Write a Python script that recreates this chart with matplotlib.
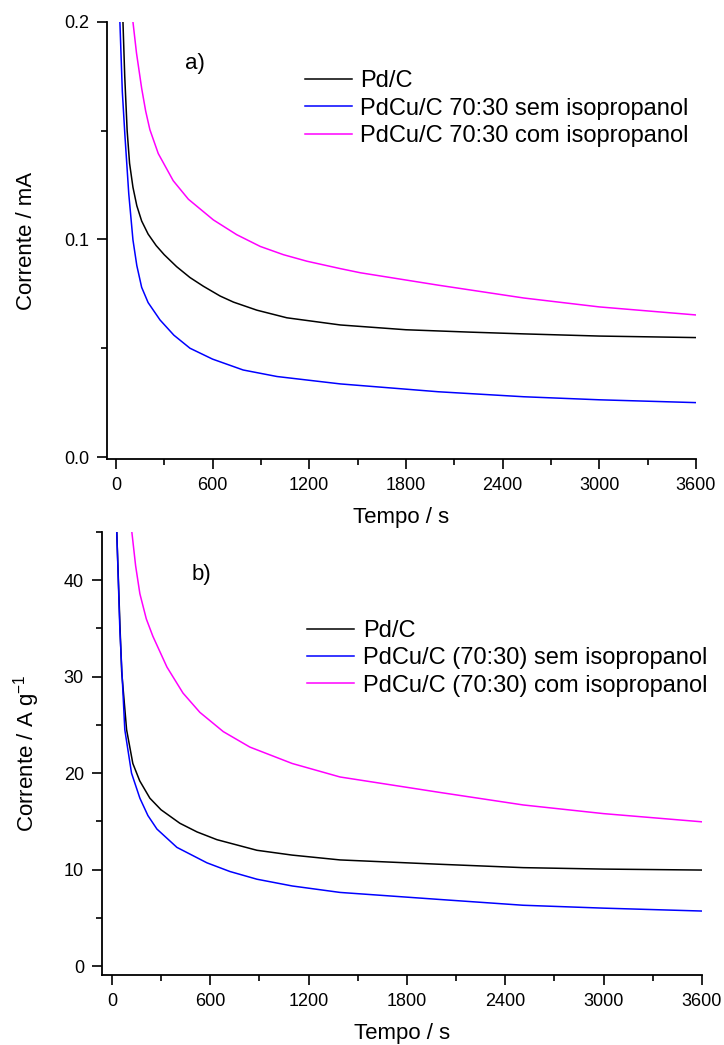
import numpy as np
import matplotlib
matplotlib.use("Agg")
import matplotlib.pyplot as plt
from matplotlib.ticker import MultipleLocator, FormatStrFormatter

plt.rcParams['font.family'] = ['Liberation Sans', 'DejaVu Sans']
plt.rcParams['mathtext.default'] = 'regular'

# a) corrente (mA) vs tempo (s)
t_pd_a = [30, 44, 55, 70, 85, 106, 130, 160, 200, 250, 300, 377, 460, 543, 647, 730,
          875, 1061, 1393, 1800, 2200, 2531, 3000, 3600]
i_pd_a = [0.26, 0.200, 0.175, 0.150, 0.135, 0.124, 0.1155, 0.1085, 0.1025, 0.0972, 0.0930,
          0.0875, 0.0825, 0.0785, 0.0740, 0.0712, 0.0675, 0.0640, 0.0607, 0.0585, 0.0574,
          0.0566, 0.0556, 0.0549]
t_sem_a = [15, 25, 40, 56, 80, 106, 130, 160, 200, 274, 360, 460, 600, 790, 1000, 1393,
           2000, 2531, 3000, 3600]
i_sem_a = [0.28, 0.200, 0.168, 0.148, 0.121, 0.0998, 0.088, 0.078, 0.071, 0.063, 0.056,
           0.050, 0.045, 0.040, 0.037, 0.0336, 0.0300, 0.0277, 0.0263, 0.0250]
t_com_a = [80, 106, 128, 160, 185, 211, 263, 356, 450, 605, 750, 896, 1040, 1186, 1393,
           1517, 2000, 2531, 3000, 3600]
i_com_a = [0.25, 0.200, 0.1857, 0.1695, 0.159, 0.1505, 0.1395, 0.127, 0.1185, 0.109,
           0.1022, 0.0968, 0.0930, 0.0900, 0.0866, 0.0847, 0.0790, 0.0731, 0.0690, 0.0653]

# b) corrente (A/g) vs tempo (s)
t_pd_b = [20, 30, 49, 60, 90, 128, 170, 232, 300, 415, 520, 641, 885, 1100, 1392, 2000,
          2509, 3000, 3600]
i_pd_b = [55, 45, 35.5, 30.5, 24.5, 21.0, 19.2, 17.4, 16.2, 14.8, 13.9, 13.1, 12.0, 11.5,
          11.0, 10.55, 10.2, 10.05, 9.95]
t_sem_b = [20, 30, 49, 79, 120, 171, 220, 275, 397, 580, 720, 885, 1100, 1392, 2000, 2509,
           3000, 3600]
i_sem_b = [55, 45, 34.8, 24.5, 20.0, 17.4, 15.6, 14.2, 12.3, 10.7, 9.8, 9.0, 8.3, 7.63,
           6.9, 6.3, 6.0, 5.7]
t_com_b = [100, 122, 145, 171, 210, 250, 336, 434, 537, 680, 842, 1100, 1392, 2000, 2509,
           3000, 3600]
i_com_b = [52, 45, 41.5, 38.6, 36.0, 34.2, 31.0, 28.3, 26.3, 24.3, 22.7, 21.0, 19.6, 18.0,
           16.7, 15.8, 14.95]

labels_a = ["Pd/C", "PdCu/C 70:30 sem isopropanol", "PdCu/C 70:30 com isopropanol"]
labels_b = ["Pd/C", "PdCu/C (70:30) sem isopropanol", "PdCu/C (70:30) com isopropanol"]
cores = ["black", "blue", "magenta"]

fig = plt.figure(figsize=(7.24, 10.45), dpi=100)
ax1 = fig.add_axes([0.1478, 0.5608, 0.8135, 0.4182])
ax2 = fig.add_axes([0.1409, 0.0670, 0.8287, 0.4239])


def estilo(ax):
    for s in ["top", "right"]:
        ax.spines[s].set_visible(False)
    for s in ["left", "bottom"]:
        ax.spines[s].set_linewidth(1.3)
    ax.xaxis.set_major_locator(MultipleLocator(600))
    ax.xaxis.set_minor_locator(MultipleLocator(300))
    ax.tick_params(which="major", direction="out", length=7, width=1.2, labelsize=13, pad=6)
    ax.tick_params(which="minor", direction="out", length=4, width=1.2)
    ax.set_xlabel("Tempo / s", fontsize=16, labelpad=9)


leg_kw = dict(loc="upper left", frameon=False, fontsize=17, handlelength=2.0,
              handletextpad=0.35, labelspacing=0.22, borderpad=0, borderaxespad=0)

# a)
for t, i, c, lab in zip([t_pd_a, t_sem_a, t_com_a], [i_pd_a, i_sem_a, i_com_a], cores, labels_a):
    ax1.plot(t, i, color=c, lw=1.1, label=lab)
ax1.set_xlim(-55, 3600)
ax1.set_ylim(-0.0009, 0.2)
ax1.yaxis.set_major_locator(MultipleLocator(0.1))
ax1.yaxis.set_minor_locator(MultipleLocator(0.05))
ax1.yaxis.set_major_formatter(FormatStrFormatter("%.1f"))
estilo(ax1)
ax1.set_ylabel("Corrente / mA", fontsize=16, labelpad=19)
ax1.text(0.132, 0.906, "a)", transform=ax1.transAxes, fontsize=16, va="center", ha="left")
ax1.legend(bbox_to_anchor=(0.336, 0.889), **leg_kw)

# b)
for t, i, c, lab in zip([t_pd_b, t_sem_b, t_com_b], [i_pd_b, i_sem_b, i_com_b], cores, labels_b):
    ax2.plot(t, i, color=c, lw=1.1, label=lab)
ax2.set_xlim(-60, 3600)
ax2.set_ylim(-0.93, 45)
ax2.yaxis.set_major_locator(MultipleLocator(10))
ax2.yaxis.set_minor_locator(MultipleLocator(5))
estilo(ax2)
ax2.set_ylabel("Corrente / A g$^{-1}$", fontsize=16, labelpad=16)
ax2.text(0.15, 0.903, "b)", transform=ax2.transAxes, fontsize=16, va="center", ha="left")
ax2.legend(bbox_to_anchor=(0.342, 0.801), **leg_kw)

plt.savefig("out.png", dpi=100)
